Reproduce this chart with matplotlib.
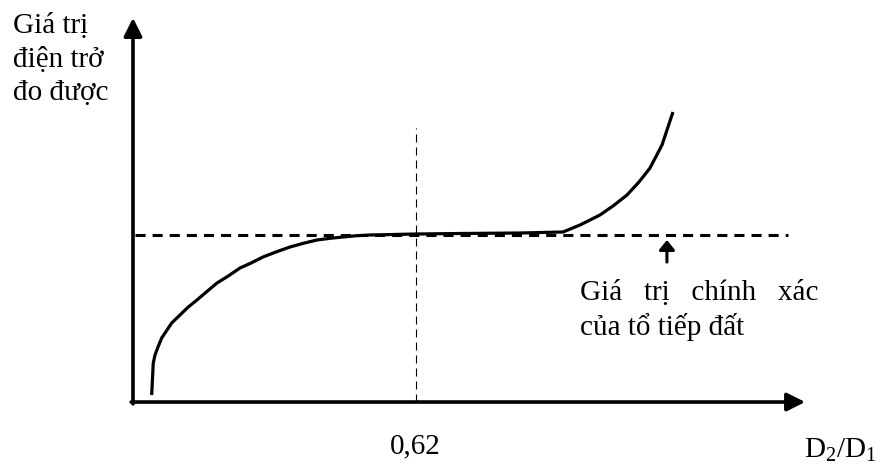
import numpy as np
import matplotlib
matplotlib.use('Agg')
import matplotlib.pyplot as plt

plt.rcParams['font.family'] = ['Liberation Serif', 'DejaVu Serif']
plt.rcParams['mathtext.fontset'] = 'custom'
plt.rcParams['mathtext.rm'] = 'Liberation Serif'
plt.rcParams['mathtext.it'] = 'Liberation Serif'
plt.rcParams['mathtext.default'] = 'regular'

ratio = [0.0411, 0.0446, 0.0484, 0.0550, 0.0631, 0.0748, 0.0851, 0.1033, 0.1216,
         0.1407, 0.1620, 0.1847, 0.2095, 0.2353, 0.2610, 0.2858, 0.3160, 0.3452,
         0.3745, 0.4046, 0.4332, 0.4617, 0.4919, 0.5211, 0.6223, 0.7190, 0.8509,
         0.9454, 0.9829, 1.0268, 1.0554, 1.0862, 1.1126, 1.1368, 1.1632, 1.1873]
resist = [0.0419, 0.2335, 0.2814, 0.3293, 0.3832, 0.4311, 0.4731, 0.5210, 0.5689,
          0.6108, 0.6605, 0.7126, 0.7545, 0.8024, 0.8341, 0.8683, 0.9000, 0.9281,
          0.9503, 0.9701, 0.9802, 0.9880, 0.9958, 1.0000, 1.0060, 1.0090, 1.0120,
          1.0180, 1.0599, 1.1198, 1.1737, 1.2395, 1.3174, 1.4012, 1.5389, 1.7365]
true_value = 1.0
x_mark = 0.62
x_end = 1.478
y_end = 2.30

fs = 21

fig = plt.figure(figsize=(8.8, 4.67), dpi=100)
ax = fig.add_axes([0, 0, 1, 1])
ax.set_xlim(-0.2924, 1.6425)
ax.set_ylim(-0.389, 2.407)
ax.axis('off')

# axes with arrows
head = '-|>,head_length=1.1,head_width=0.55'
ax.annotate('', xy=(x_end, 0), xytext=(-0.004, 0),
            arrowprops=dict(arrowstyle=head, lw=2.6, color='black', shrinkA=0, shrinkB=0))
ax.annotate('', xy=(0, y_end), xytext=(0, -0.011),
            arrowprops=dict(arrowstyle=head, lw=2.6, color='black', shrinkA=0, shrinkB=0))

# thin vertical dashed line at 0.62
ax.plot([x_mark + 0.003, x_mark + 0.003], [0, 1.64], color='black', lw=0.8, dashes=(7.2, 4.5))

# true value dashed line
ax.plot([0.0044, 1.440], [true_value, true_value], color='black', lw=2.2, dashes=(3.3, 2.3))

# measured curve
ax.plot(ratio, resist, color='black', lw=2.3, solid_capstyle='butt', solid_joinstyle='round')

# small arrow pointing to true value
ax.annotate('', xy=(1.174, 0.970), xytext=(1.174, 0.838),
            arrowprops=dict(arrowstyle='-|>,head_length=0.58,head_width=0.47', lw=2.2,
                            color='black', shrinkA=0, shrinkB=0))

ax.text(-0.2638, 2.2096, 'Giá trị', fontsize=fs, va='baseline', ha='left')
ax.text(-0.2638, 2.006, 'điện trở', fontsize=fs, va='baseline', ha='left')
ax.text(-0.2638, 1.808, 'đo được', fontsize=fs, va='baseline', ha='left')
ax.text(0.9829, 0.6108, 'Giá   trị   chính   xác', fontsize=fs, va='baseline', ha='left')
ax.text(0.9829, 0.4012, 'của tổ tiếp đất', fontsize=fs, va='baseline', ha='left')
ax.text(x_mark, -0.3054, '0,62', fontsize=fs, ha='center', va='baseline')
ax.text(1.5545, -0.3353, 'D$_2$/D$_1$', fontsize=fs, ha='center', va='baseline')

fig.savefig('out.png', dpi=100)
